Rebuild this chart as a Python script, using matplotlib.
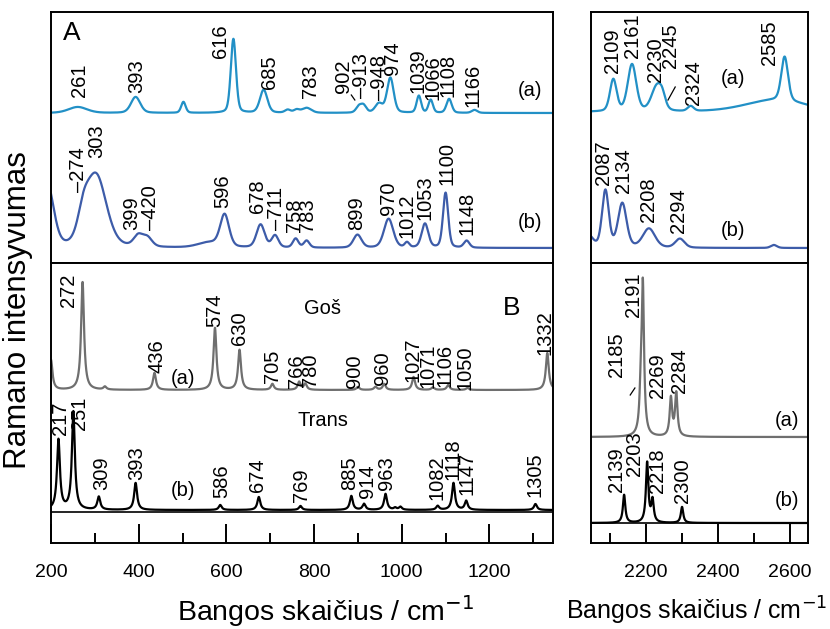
import numpy as np
import matplotlib
matplotlib.use("Agg")
import matplotlib.pyplot as plt
from matplotlib.ticker import FixedLocator

plt.rcParams['font.family'] = ['Liberation Sans', 'DejaVu Sans']

# ---------------- data ----------------
# Experimental Raman spectra, panel A (peak centre cm-1, intensity, FWHM cm-1)
expA_low_a_pos = [261, 393, 502, 616, 685, 740, 760, 783, 902, 913, 948, 974, 1039, 1066, 1108, 1166]
expA_low_a_int = [6, 16, 11, 74, 23, 3, 3, 5, 6, 7, 9, 35, 17, 13, 14, 3]
expA_low_a_fwhm = [50, 25, 12, 14, 20, 15, 15, 25, 15, 15, 20, 18, 12, 12, 14, 15]

expA_low_b_pos = [192, 274, 303, 399, 420, 560, 596, 678, 711, 758, 783, 899, 970, 1012, 1053, 1100, 1148]
expA_low_b_int = [62, 22, 72, 11, 9, 5, 32, 23, 12, 9, 7, 13, 29, 5, 24, 55, 7]
expA_low_b_fwhm = [34, 30, 55, 25, 25, 60, 24, 22, 18, 15, 15, 22, 25, 12, 18, 14, 15]

expA_high_a_pos = [2109, 2161, 2230, 2245, 2324, 2560, 2585]
expA_high_a_int = [32, 47, 25, 9, 5, 12, 44]
expA_high_a_fwhm = [22, 28, 35, 20, 20, 200, 22]

expA_high_b_pos = [2040, 2087, 2134, 2208, 2294, 2555]
expA_high_b_int = [12, 57, 44, 19, 9, 3]
expA_high_b_fwhm = [30, 22, 28, 40, 30, 20]

# Calculated spectra, panel B
calc_gos_low_pos = [200, 272, 323, 436, 574, 630, 705, 766, 780, 900, 940, 960, 1027, 1071, 1106, 1150, 1332]
calc_gos_low_int = [30, 108, 3, 17, 62, 40, 6, 8, 6, 3, 3, 6, 13, 2.5, 5, 2, 37]

calc_trans_low_pos = [217, 251, 309, 393, 586, 674, 769, 885, 914, 963, 985, 997, 1082, 1118, 1147, 1305]
calc_trans_low_int = [70, 98, 13, 27, 5, 13, 4, 14, 6, 16, 2, 3, 4, 27, 9, 6]

calc_gos_high_pos = [2185, 2191, 2269, 2284]
calc_gos_high_int = [30, 150, 38, 43]

calc_trans_high_pos = [2139, 2203, 2218, 2300]
calc_trans_high_int = [28, 60, 22, 16]

# Peak labels (text, label x in cm-1, label base height)
lab_A_low_a = [("261", 266, 166), ("393", 396, 170), ("616", 587, 205), ("685", 699, 174),
               ("783", 791, 165), ("902", 868, 170), ("–913", 909, 165), ("–948", 950, 163),
               ("974", 980, 188), ("1039", 1037, 170), ("1066", 1071, 163), ("1108", 1105, 166),
               ("1166", 1162, 156)]
lab_A_low_b = [("–274", 262, 71), ("303", 305, 105), ("399", 385, 33), ("–420", 426, 33),
               ("596", 592, 55), ("678", 672, 50), ("–711", 715, 33), ("758", 756, 31),
               ("783", 786, 31), ("899", 898, 33), ("970", 969, 48), ("1012", 1012, 25),
               ("1053", 1053, 43), ("1100", 1103, 78), ("1148", 1149, 28)]
lab_B_low_a = [("272", 239, 236), ("436", 442, 170), ("574", 574, 216), ("630", 631, 198),
               ("705", 706, 160), ("766", 761, 155), ("780", 791, 156), ("900", 893, 155),
               ("960", 957, 158), ("1027", 1026, 161), ("1071", 1060, 155), ("1106", 1099, 156),
               ("1050", 1144, 153), ("1332", 1327, 188)]
lab_B_low_b = [("217", 221, 108), ("251", 266, 113), ("309", 316, 53), ("393", 396, 63),
               ("586", 590, 45), ("674", 672, 51), ("769", 772, 41), ("885", 882, 53),
               ("914", 923, 45), ("963", 966, 53), ("1082", 1080, 43), ("1118", 1117, 63),
               ("1147", 1149, 48), ("1305", 1304, 46)]
lab_A_high_a = [("2109", 2108, 190), ("2161", 2161, 205), ("2230", 2225, 181),
                ("2245", 2267, 195), ("2324", 2331, 158), ("2585", 2544, 198)]
lab_A_high_b = [("2087", 2081, 78), ("2134", 2136, 70), ("2208", 2206, 41), ("2294", 2289, 30)]
lab_B_high_a = [("2185", 2119, 166), ("2191", 2164, 226), ("2269", 2231, 145), ("2284", 2294, 150)]
lab_B_high_b = [("2139", 2119, 51), ("2203", 2169, 67), ("2218", 2233, 50), ("2300", 2300, 40)]

low_ticks_major = [200, 400, 600, 800, 1000, 1200]
low_ticks_minor = [300, 500, 700, 900, 1100, 1300]
high_ticks_major = [2200, 2400, 2600]
high_ticks_minor = [2100, 2300, 2500]

# ---------------- helpers ----------------
def band_sum(x, pos, amp, fwhm, eta):
    y = np.zeros_like(x)
    for c, h, w in zip(pos, amp, fwhm):
        u = (x - c) / w
        g = np.exp(-4 * np.log(2) * u ** 2)
        lo = 1.0 / (1.0 + 4 * u ** 2)
        y += h * (eta * lo + (1 - eta) * g)
    return y

C_A = '#2290c6'
C_B = '#3d5ca9'
C_G = '#6f6f6f'
C_K = '#000000'
FS_NUM = 14.5

W, H = 830, 629
def rect(x0, y0, x1, y1):
    return [x0 / W, 1 - y1 / H, (x1 - x0) / W, (y1 - y0) / H]

fig = plt.figure(figsize=(8.30, 6.29), dpi=100)
axAL = fig.add_axes(rect(51, 12, 553, 263))
axBL = fig.add_axes(rect(51, 263, 553, 543))
axAR = fig.add_axes(rect(591, 12, 808, 263))
axBR = fig.add_axes(rect(591, 263, 808, 543))

xlow = (200, 1345)
xhigh = (2047, 2650)
for ax, xl, yl in [(axAL, xlow, 251), (axBL, xlow, 280), (axAR, xhigh, 251), (axBR, xhigh, 280)]:
    ax.set_xlim(*xl)
    ax.set_ylim(0, yl)
    for s in ax.spines.values():
        s.set_linewidth(1.4)
    ax.set_yticks([])

for ax in (axAL, axAR):
    ax.set_xticks([])

def labels(ax, items, **kw):
    for t, x, y in items:
        ax.text(x, y, t, rotation=90, ha='center', va='bottom', fontsize=FS_NUM, **kw)

# ---- panel A, low wavenumber ----
xl = np.linspace(200, 1345, 4000)
axAL.plot(xl, 150 + band_sum(xl, expA_low_a_pos, expA_low_a_int, expA_low_a_fwhm, 0.3), color=C_A, lw=1.6)
axAL.plot(xl, 15 + band_sum(xl, expA_low_b_pos, expA_low_b_int, expA_low_b_fwhm, 0.3), color=C_B, lw=1.6)
labels(axAL, lab_A_low_a)
labels(axAL, lab_A_low_b)
axAL.plot([885, 893], [168, 163], color='k', lw=0.9)
axAL.text(1292, 173, "(a)", fontsize=FS_NUM, ha='center', va='center')
axAL.text(1292, 40, "(b)", fontsize=FS_NUM, ha='center', va='center')
axAL.text(248, 230, "A", fontsize=19, ha='center', va='center')

# ---- panel B, low wavenumber ----
fw_low = [8] * 30
axBL.axhline(31, color='k', lw=1.2)
axBL.plot(xl, 153 + band_sum(xl, calc_gos_low_pos, calc_gos_low_int, fw_low, 1.0), color=C_G, lw=1.6)
axBL.plot(xl, 33 + band_sum(xl, calc_trans_low_pos, calc_trans_low_int, fw_low, 1.0), color=C_K, lw=1.6)
labels(axBL, lab_B_low_a)
labels(axBL, lab_B_low_b)
axBL.text(501, 165, "(a)", fontsize=FS_NUM, ha='center', va='center')
axBL.text(501, 53, "(b)", fontsize=FS_NUM, ha='center', va='center')
axBL.text(820, 235, "Goš", fontsize=FS_NUM, ha='center', va='center')
axBL.text(820, 123, "Trans", fontsize=FS_NUM, ha='center', va='center')
axBL.text(1251, 235, "B", fontsize=19, ha='center', va='center')

# ---- panel A, high wavenumber ----
xh = np.linspace(2047, 2650, 3000)
axAR.plot(xh, 151 + band_sum(xh, expA_high_a_pos, expA_high_a_int, expA_high_a_fwhm, 0.3), color=C_A, lw=1.6)
axAR.plot(xh, 15 + band_sum(xh, expA_high_b_pos, expA_high_b_int, expA_high_b_fwhm, 0.3), color=C_B, lw=1.6)
labels(axAR, lab_A_high_a)
labels(axAR, lab_A_high_b)
axAR.plot([2261, 2281], [163, 176], color='k', lw=0.9)
axAR.text(2442, 185, "(a)", fontsize=FS_NUM, ha='center', va='center')
axAR.text(2442, 33, "(b)", fontsize=FS_NUM, ha='center', va='center')

# ---- panel B, high wavenumber ----
fw_high = [8] * 10
axBR.axhline(20, color='k', lw=1.2)
axBR.plot(xh, 106 + band_sum(xh, calc_gos_high_pos, calc_gos_high_int, fw_high, 1.0), color=C_G, lw=1.6)
axBR.plot(xh, 20 + band_sum(xh, calc_trans_high_pos, calc_trans_high_int, fw_high, 1.0), color=C_K, lw=1.6)
labels(axBR, lab_B_high_a)
labels(axBR, lab_B_high_b)
axBR.plot([2156, 2169], [148, 155], color='k', lw=0.9)
axBR.text(2592, 123, "(a)", fontsize=FS_NUM, ha='center', va='center')
axBR.text(2592, 43, "(b)", fontsize=FS_NUM, ha='center', va='center')

# ---- x axes ----
for ax, maj, mnr in [(axBL, low_ticks_major, low_ticks_minor), (axBR, high_ticks_major, high_ticks_minor)]:
    ax.xaxis.set_major_locator(FixedLocator(maj))
    ax.xaxis.set_minor_locator(FixedLocator(mnr))
    ax.set_xticklabels([str(v) for v in maj])
    ax.tick_params(axis='x', which='major', direction='in', length=14, width=1.4,
                   labelsize=14, pad=15)
    ax.tick_params(axis='x', which='minor', direction='in', length=7, width=1.4)

fig.text(326 / W, 1 - 611 / H, "Bangos skaičius / cm$^{-1}$", fontsize=20.5, ha='center', va='center')
fig.text(566 / W, 1 - 611 / H, "Bangos skaičius / cm$^{-1}$", fontsize=18, ha='left', va='center')
fig.text(18 / W, 1 - 310 / H, "Ramano intensyvumas", fontsize=22.5, rotation=90, ha='center', va='center')

fig.savefig("out.png", dpi=100)
